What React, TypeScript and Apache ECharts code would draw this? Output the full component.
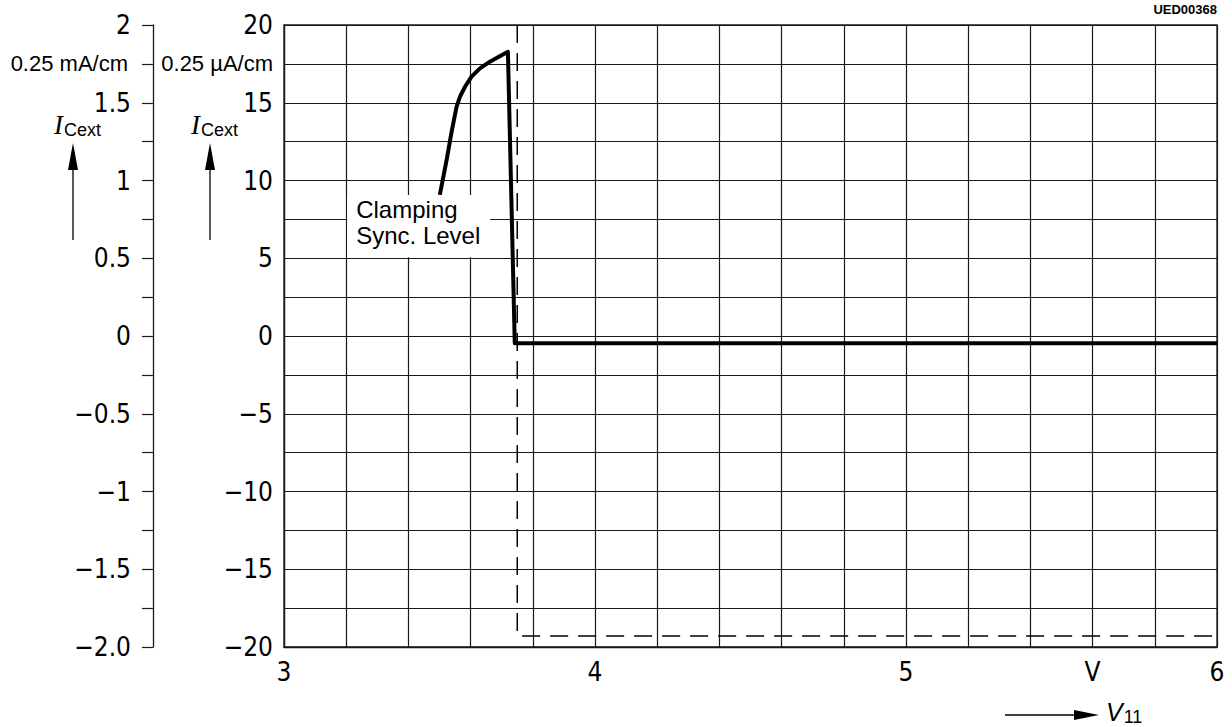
import React, { useEffect, useRef } from "react";
import * as echarts from "echarts";

// Measured curve (thick line)
const curveX = [3.501, 3.523, 3.539, 3.555, 3.566, 3.582, 3.603, 3.63, 3.662, 3.695, 3.72, 3.742, 6.0];
const curveY = [9.07, 11.32, 13.14, 14.75, 15.39, 16.03, 16.68, 17.21, 17.64, 18.0, 18.28, -0.47, -0.47];
// Dashed boundary line
const dashX = [3.75, 3.75, 6.0];
const dashY = [20, -19.3, -19.3];
// Tick labels
const xTickValues = [3, 4, 5, 5.6, 6];
const xTickTexts = ["3", "4", "5", "V", "6"];
const innerTickValues = [20, 15, 10, 5, 0, -5, -10, -15, -20];
const innerTickTexts = ["20", "15", "10", "5", "0", "−5", "−10", "−15", "−20"];
const outerTickValues = [2, 1.5, 1, 0.5, 0, -0.5, -1, -1.5, -2];
const outerTickTexts = ["2", "1.5", "1", "0.5", "0", "−0.5", "−1", "−1.5", "−2.0"];
// Annotation box (data coordinates)
const boxCorners = [
  [3.2, 9.07],
  [3.663, 5.0],
];
const annotationLines = ["Clamping", "Sync. Level"];

const FONT = '"Liberation Sans Narrow", "DejaVu Sans Condensed", "Liberation Sans", sans-serif';
const FONT2 = '"Liberation Sans", Arial, sans-serif';

function lookup(values: number[], texts: string[], v: number): string {
  for (let i = 0; i < values.length; i++) {
    if (Math.abs(values[i] - v) < 1e-6) return texts[i];
  }
  return "";
}

export default function App() {
  const ref = useRef<HTMLDivElement>(null);
  useEffect(() => {
    if (!ref.current) return;
    const chart = echarts.init(ref.current, null, { renderer: "svg" });
    const gridColor = "#1a1a1a";
    chart.setOption({
      animation: false,
      backgroundColor: "#ffffff",
      grid: {
        left: 284,
        right: 15,
        top: 25,
        bottom: 80,
        show: true,
        borderColor: gridColor,
        borderWidth: 1.3,
        backgroundColor: "transparent",
      },
      xAxis: {
        type: "value",
        min: 3,
        max: 6,
        interval: 0.2,
        axisLine: { show: true, onZero: false, lineStyle: { color: gridColor, width: 1.3 } },
        axisTick: { show: false },
        splitLine: { show: true, lineStyle: { color: gridColor, width: 1.2 } },
        axisLabel: {
          show: true,
          margin: 12,
          color: "#000",
          fontFamily: FONT,
          fontSize: 26,
          showMinLabel: true,
          showMaxLabel: true,
          formatter: (v: number) => lookup(xTickValues, xTickTexts, v),
        },
      },
      yAxis: [
        {
          type: "value",
          min: -20,
          max: 20,
          interval: 2.5,
          position: "left",
          axisLine: { show: true, onZero: false, lineStyle: { color: gridColor, width: 1.3 } },
          axisTick: { show: false },
          splitLine: { show: true, lineStyle: { color: gridColor, width: 1.2 } },
          axisLabel: {
            margin: 11,
            color: "#000",
            fontFamily: FONT,
            fontSize: 26,
            showMinLabel: true,
            showMaxLabel: true,
            formatter: (v: number) => lookup(innerTickValues, innerTickTexts, v),
          },
        },
        {
          type: "value",
          min: -2,
          max: 2,
          interval: 0.25,
          position: "left",
          offset: 131,
          axisLine: { show: true, onZero: false, lineStyle: { color: gridColor, width: 1.3 } },
          axisTick: { show: true, length: 11, lineStyle: { color: gridColor, width: 1.2 } },
          splitLine: { show: false },
          axisLabel: {
            margin: 22,
            color: "#000",
            fontFamily: FONT,
            fontSize: 26,
            showMinLabel: true,
            showMaxLabel: true,
            formatter: (v: number) => lookup(outerTickValues, outerTickTexts, v),
          },
        },
      ],
      series: [
        {
          type: "line",
          xAxisIndex: 0,
          yAxisIndex: 0,
          data: dashX.map((x, i) => [x, dashY[i]]),
          symbol: "none",
          lineStyle: { color: "#000", width: 1.5, type: [18, 10] },
          silent: true,
          z: 3,
        },
        {
          type: "line",
          xAxisIndex: 0,
          yAxisIndex: 0,
          data: curveX.map((x, i) => [x, curveY[i]]),
          symbol: "none",
          smooth: false,
          lineStyle: { color: "#000", width: 4, join: "round" },
          silent: true,
          z: 4,
        },
      ],
    });

    const p1 = chart.convertToPixel({ xAxisIndex: 0, yAxisIndex: 0 }, boxCorners[0]) as number[];
    const p2 = chart.convertToPixel({ xAxisIndex: 0, yAxisIndex: 0 }, boxCorners[1]) as number[];

    const subRich = {
      i: { fontFamily: '"Liberation Serif", serif', fontStyle: "italic", fontSize: 27, color: "#000" },
      s: { fontFamily: FONT2, fontSize: 18, color: "#000", padding: [10, 0, 0, 1] },
    };

    const arrowUp = (x: number) => [
      { type: "line", shape: { x1: x, y1: 240, x2: x, y2: 165 }, style: { stroke: "#000", lineWidth: 1.3 }, silent: true },
      { type: "polygon", shape: { points: [[x, 143], [x - 5, 170], [x + 5, 170]] }, style: { fill: "#000" }, silent: true },
    ];

    chart.setOption({
      graphic: [
        {
          type: "rect",
          shape: { x: p1[0] + 1, y: p1[1], width: p2[0] - p1[0] - 1, height: p2[1] - p1[1] - 1 },
          style: { fill: "#fff" },
          z: 10,
          silent: true,
        },
        {
          type: "text",
          x: p1[0] + 10,
          y: p1[1] + 2,
          style: {
            text: annotationLines.join("\n"),
            font: `24px ${FONT2}`,
            fill: "#000",
            lineHeight: 26,
          },
          z: 11,
          silent: true,
        },
        {
          type: "text",
          x: 128,
          y: 63,
          style: { text: "0.25 mA/cm", font: `22px ${FONT2}`, fill: "#000", align: "right", verticalAlign: "middle" },
          silent: true,
        },
        {
          type: "text",
          x: 273,
          y: 63,
          style: { text: "0.25 µA/cm", font: `22px ${FONT2}`, fill: "#000", align: "right", verticalAlign: "middle" },
          silent: true,
        },
        {
          type: "text",
          x: 54,
          y: 125,
          style: { text: "{i|I}{s|Cext}", rich: subRich, verticalAlign: "middle" },
          silent: true,
        },
        {
          type: "text",
          x: 191,
          y: 125,
          style: { text: "{i|I}{s|Cext}", rich: subRich, verticalAlign: "middle" },
          silent: true,
        },
        ...arrowUp(73),
        ...arrowUp(210),
        {
          type: "text",
          x: 1217,
          y: 9,
          style: { text: "UED00368", font: `bold 13px ${FONT2}`, fill: "#000", align: "right", verticalAlign: "middle" },
          silent: true,
        },
        { type: "line", shape: { x1: 1005, y1: 715, x2: 1080, y2: 715 }, style: { stroke: "#000", lineWidth: 1.3 }, silent: true },
        {
          type: "polygon",
          shape: { points: [[1099, 715], [1074, 710], [1074, 720]] },
          style: { fill: "#000" },
          silent: true,
        },
        {
          type: "text",
          x: 1106,
          y: 712,
          style: {
            text: "{i|V}{s|11}",
            rich: {
              i: { fontFamily: '"Liberation Sans", sans-serif', fontStyle: "italic", fontSize: 25, color: "#000" },
              s: { fontFamily: FONT2, fontSize: 18, color: "#000", padding: [10, 0, 0, 1] },
            },
            verticalAlign: "middle",
          },
          silent: true,
        },
      ],
    });

    return () => chart.dispose();
  }, []);

  return (
    <div
      ref={ref}
      style={{ position: "absolute", left: 0, top: 0, width: 1232, height: 727, background: "#fff" }}
    />
  );
}
